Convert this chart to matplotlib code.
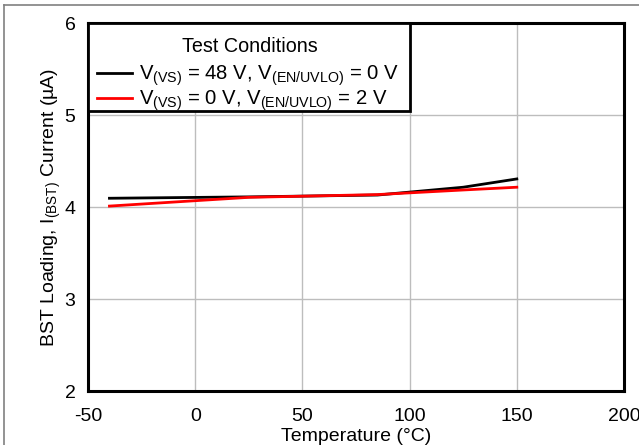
import matplotlib
matplotlib.use('Agg')
import matplotlib.pyplot as plt
from matplotlib.lines import Line2D
from matplotlib.patches import Rectangle

plt.rcParams['font.family'] = ['Liberation Sans', 'DejaVu Sans']
plt.rcParams['mathtext.fontset'] = 'custom'
plt.rcParams['mathtext.rm'] = 'Liberation Sans'
plt.rcParams['axes.unicode_minus'] = False

temp = [-40, 25, 85, 125, 150]
i_vs48 = [4.095, 4.11, 4.13, 4.215, 4.305]
i_vs0 = [4.01, 4.105, 4.135, 4.185, 4.215]

W, H = 639, 445
fig = plt.figure(figsize=(W/100, H/100), dpi=100)
ax = fig.add_axes([88/W, 1-391/H, 536/W, 368/H])

ax.plot(temp, i_vs48, color='black', lw=2, label=r'V$_{\mathregular{(VS)}}$ = 48 V, V$_{\mathregular{(EN/UVLO)}}$ = 0 V')
ax.plot(temp, i_vs0, color='red', lw=2, label=r'V$_{\mathregular{(VS)}}$ = 0 V, V$_{\mathregular{(EN/UVLO)}}$ = 2 V')

ax.set_xlim(-50, 200)
ax.set_ylim(2, 6)
ax.set_xticks([-50, 0, 50, 100, 150, 200])
ax.set_yticks([2, 3, 4, 5, 6])
ax.grid(True, color='#bdbdbd', lw=1)
ax.set_axisbelow(True)
ax.tick_params(axis='x', length=0, labelsize=14, pad=12.5)
ax.tick_params(axis='y', length=0, labelsize=14, pad=9)
for s in ax.spines.values():
    s.set_linewidth(2.2)
ax.set_xlabel('Temperature (°C)', fontsize=14, labelpad=2)
ax.set_ylabel(r'BST Loading, I$_{\mathregular{(BST)}}$ Current (µA)', fontsize=14, labelpad=1)

# legend box with title
ax.add_patch(Rectangle((88/W, 1-111/H), (410-88)/W, (111-23)/H, transform=fig.transFigure,
                       facecolor='white', edgecolor='black', lw=2, zorder=5))
fig.text(250/W, 1-46/H, 'Test Conditions', fontsize=14.2, ha='center', va='center', zorder=6)
leg = ax.legend(loc='upper left', bbox_to_anchor=(97/W, 1-64/H), bbox_transform=fig.transFigure,
                fontsize=14.6, frameon=False, borderaxespad=0, borderpad=0,
                handlelength=1.75, handletextpad=0.3, labelspacing=0.0)
leg.set_zorder(7)

# figure border (top and left)
fig.add_artist(Line2D([4/W, 4/W], [0, 1-5/H], color='#808080', lw=1.2))
fig.add_artist(Line2D([4/W, 1], [1-5/H, 1-5/H], color='#808080', lw=1.2))

fig.savefig('out.png', dpi=100)
